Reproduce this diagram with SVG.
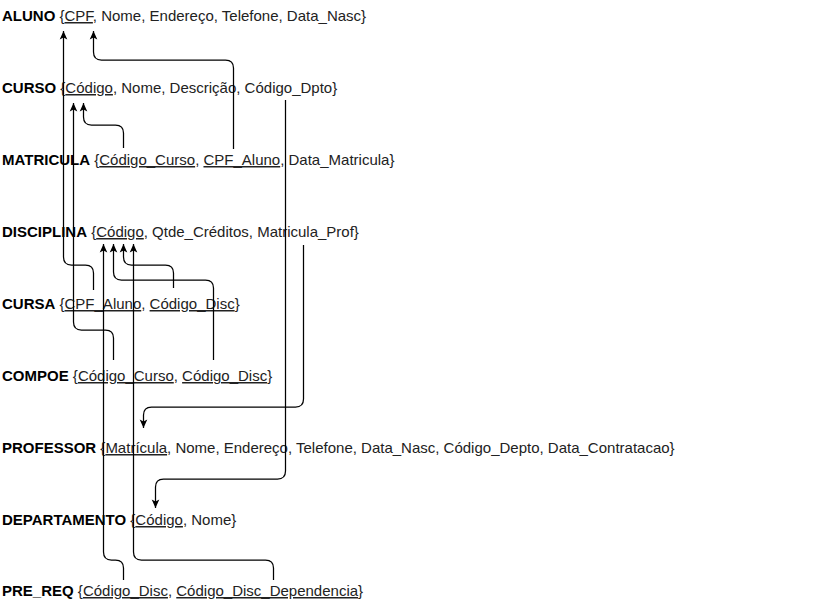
<svg xmlns="http://www.w3.org/2000/svg" width="821" height="602" viewBox="0 0 821 602">
<defs>
<marker id="arr" markerUnits="userSpaceOnUse" markerWidth="12" markerHeight="12" viewBox="-10 -6 12 12" refX="0" refY="0" orient="auto">
<path d="M0,0 L-8.5,-3.8 L-6.5,0 L-8.5,3.8 Z" fill="#000"/>
</marker>
<style>
text{font-family:"Liberation Sans",Arial,Helvetica,sans-serif;font-size:15px;fill:#000}
.b{font-weight:bold}
.r{fill:#222}
.u{text-decoration:underline}
.c{fill:none;stroke:#000;stroke-width:1.25;marker-end:url(#arr)}
</style>
</defs>
<rect width="821" height="602" fill="#fff"/>
<g id="nodes">
<g id="aluno"><text x="2" y="21"><tspan class="b">ALUNO</tspan><tspan class="r"> {<tspan class="u">CPF</tspan>, Nome, Endereço, Telefone, Data_Nasc}</tspan></text></g>
<g id="curso"><text x="2" y="93"><tspan class="b">CURSO</tspan><tspan class="r"> {<tspan class="u">Código</tspan>, Nome, Descrição, Código_Dpto}</tspan></text></g>
<g id="matricula"><text x="2" y="165"><tspan class="b">MATRICULA</tspan><tspan class="r"> {<tspan class="u">Código_Curso</tspan>, <tspan class="u">CPF_Aluno</tspan>, Data_Matricula}</tspan></text></g>
<g id="disciplina"><text x="2" y="237"><tspan class="b">DISCIPLINA</tspan><tspan class="r"> {<tspan class="u">Código</tspan>, Qtde_Créditos, Matricula_Prof}</tspan></text></g>
<g id="cursa"><text x="2" y="309"><tspan class="b">CURSA</tspan><tspan class="r"> {<tspan class="u">CPF_Aluno</tspan>, <tspan class="u">Código_Disc</tspan>}</tspan></text></g>
<g id="compoe"><text x="2" y="381"><tspan class="b">COMPOE</tspan><tspan class="r"> {<tspan class="u">Código_Curso</tspan>, <tspan class="u">Código_Disc</tspan>}</tspan></text></g>
<g id="professor"><text x="2" y="453"><tspan class="b">PROFESSOR</tspan><tspan class="r"> {<tspan class="u">Matrícula</tspan>, Nome, Endereço, Telefone, Data_Nasc, Código_Depto, Data_Contratacao}</tspan></text></g>
<g id="departamento"><text x="2" y="525"><tspan class="b">DEPARTAMENTO</tspan><tspan class="r"> {<tspan class="u">Código</tspan>, Nome}</tspan></text></g>
<g id="pre_req"><text x="2" y="596"><tspan class="b">PRE_REQ</tspan><tspan class="r"> {<tspan class="u">Código_Disc</tspan>, <tspan class="u">Código_Disc_Dependencia</tspan>}</tspan></text></g>
</g>
<g id="connectors">
<path class="c" d="M93.5,290 V273 Q93.5,265 85.5,265 H71.5 Q63.5,265 63.5,257 V31"/>
<path class="c" d="M233.5,149 V68 Q233.5,60 225.5,60 H101.5 Q93.5,60 93.5,52 V31"/>
<path class="c" d="M123.5,148 V133 Q123.5,125 115.5,125 H91.5 Q83.5,125 83.5,117 V103"/>
<path class="c" d="M113.5,360 V338 Q113.5,330 105.5,330 H81.5 Q73.5,330 73.5,322 V103"/>
<path class="c" d="M123.5,580 V568 Q123.5,560 115.5,560 H111.5 Q103.5,560 103.5,552 V244"/>
<path class="c" d="M273.5,580 V568 Q273.5,560 265.5,560 H141.5 Q133.5,560 133.5,552 V244"/>
<path class="c" d="M213.5,360 V288 Q213.5,280 205.5,280 H121.5 Q113.5,280 113.5,272 V244"/>
<path class="c" d="M173.5,288 V273 Q173.5,265 165.5,265 H131.5 Q123.5,265 123.5,257 V244"/>
<path class="c" d="M285.5,100 V471 Q285.5,479 277.5,479 H163.5 Q155.5,479 155.5,487 V508"/>
<path class="c" d="M303.5,245 V399 Q303.5,407 295.5,407 H151.5 Q143.5,407 143.5,415 V428"/>
</g>
</svg>
